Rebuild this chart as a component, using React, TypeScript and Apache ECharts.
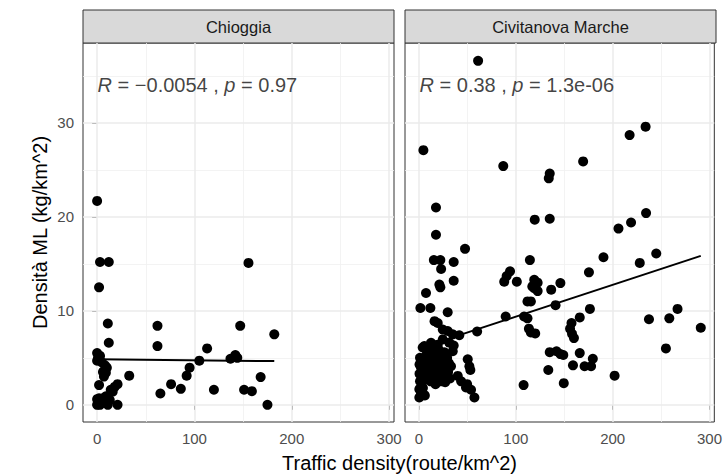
import React, { useEffect, useRef } from "react";
import * as echarts from "echarts";

// ---- data ----
const panels = ["Chioggia", "Civitanova Marche"];
const annotations = [
  "{i|R} = −0.0054 , {i|p} = 0.97",
  "{i|R} = 0.38 , {i|p} = 1.3e-06",
];

const chioggiaPoints: number[][] = [
  [0, 21.7], [3, 15.2], [12, 15.2], [2, 12.5], [11, 8.65], [12, 6.6], [62, 8.4], [62, 6.25],
  [0, 5.5], [1, 5.0], [0, 4.7], [3, 5.2], [5, 4.5], [8, 4.2], [9, 3.4], [6, 3.5], [10, 3.95], [7, 3.0],
  [33, 3.1], [2, 2.1], [14, 1.6], [18, 1.9], [21, 2.2], [16, 1.4],
  [65, 1.2], [76, 2.2], [86, 1.7], [92, 3.1], [95, 3.95], [105, 4.7], [113, 6.0], [120, 1.6],
  [137, 4.9], [142, 5.3], [144, 5.0], [147, 8.4], [155.5, 15.1], [151, 1.6], [159, 1.45], [168, 2.95], [175, 0], [182, 7.5],
  [0, 0], [0, 0.6], [2, 0.7], [4, 0.3], [6, 0.7], [8, 0.4], [11, 0], [13, 0.5], [21, 0], [1, 0.2], [3, 0], [9, 0.9],
];

const civitanovaPoints: number[][] = [
  [61, 36.6], [4.5, 27.1], [87, 25.4], [135, 24.6], [134, 24.1], [169.5, 25.9], [217.5, 28.7], [234, 29.6],
  [17.5, 21.0], [17.5, 18.1], [119.5, 19.7], [135, 19.8], [206, 18.75], [219, 19.4], [234.5, 20.4],
  [190.5, 15.7], [228, 15.1], [245, 16.1], [175.5, 14.1], [176.5, 10.2], [237.5, 9.1], [258.5, 9.2], [267, 10.2], [291, 8.2],
  [255, 6.0], [179.5, 4.9], [177.7, 4.1], [202, 3.1],
  [114.5, 15.4], [94, 14.2], [90.5, 13.7], [88, 13.1], [101, 13.1], [119, 13.3], [122.5, 13.0], [117, 12.6], [122.5, 12.1],
  [119, 12.4], [136.5, 12.25], [146, 12.95],
  [112, 11.0], [115.5, 11.0], [141, 10.6], [89.5, 9.4], [108.5, 9.4], [112, 9.2], [113.5, 8.1], [115.5, 7.7], [120, 7.6],
  [166, 9.3], [157.5, 8.7], [156, 8.1], [158, 7.55], [160, 7.1],
  [135, 5.6], [142, 5.7], [146, 5.4], [149, 5.3], [166, 5.5], [159, 4.2], [171, 4.1], [133.5, 3.7], [108, 2.1], [149.5, 2.3],
  [47.5, 16.6], [15.3, 15.4], [22, 15.4], [22.8, 14.45], [35.8, 15.2], [21, 12.8], [22, 12.5], [35.8, 13.2], [7.2, 11.9],
  [1.4, 10.3], [11.7, 10.3], [29.6, 9.85],
  [16, 8.9], [19.3, 8.7], [24.5, 8.0], [29.6, 7.85], [34.8, 7.5], [41.6, 7.4], [60, 7.8],
  [5.5, 6.25], [3.8, 6.1], [12.4, 6.6], [19.3, 6.4], [24.5, 6.96], [31.3, 6.6], [35.8, 6.3], [34.8, 5.7],
  [50.3, 4.85], [52, 4.1], [53, 3.7], [40, 3.07], [43.5, 2.5], [48.5, 1.84], [49.7, 2.2], [53.7, 1.6], [57.2, 0.78],
  [0.3, 1.66], [2, 1.13], [0.3, 0.78], [3.8, 2.9], [5.5, 3.6], [2, 3.96], [7.2, 2.7],
  [14, 5.8], [17, 5.5], [20, 5.9], [23, 5.2], [26, 5.6], [29, 5.0], [16, 4.8], [19, 4.5], [22, 4.2], [25, 4.6],
  [28, 4.0], [31, 4.4], [13, 4.0], [18, 3.6], [21, 3.3], [24, 3.7], [27, 3.2], [30, 3.5], [15, 3.0], [20, 2.7],
  [23, 2.5], [26, 2.9], [32, 2.8], [11, 4.8], [10, 3.2], [9, 5.1], [33, 4.1], [12, 2.5], [17, 2.2], [27, 2.4],
  [1, 5.0], [0.5, 4.3], [3, 4.6], [1, 2.5], [4, 1.8], [6, 1.0], [0.5, 3.3], [8, 5.4], [6, 4.4], [9, 6.0],
];

const chioggiaFit: number[][] = [[0, 4.85], [182, 4.65]];
const civitanovaFit: number[][] = [[0, 6.0], [291, 15.85]];

const xMajor = [0, 100, 200, 300];
const xMinor = [50, 150, 250];
const yMajor = [0, 10, 20, 30];
const yMinor = [5, 15, 25, 35];
const xRange = [-14.5, 305];
const yRange = [-1.83, 38.5];
const annotationPos: number[] = [0, 34];

const FONT = "'Liberation Sans', Arial, sans-serif";

export default function App() {
  const ref = useRef<HTMLDivElement>(null);
  useEffect(() => {
    document.body.style.margin = "0";
    const chart = echarts.init(ref.current!, undefined, { renderer: "svg" });
    const grids = [
      { left: 83, top: 43, width: 311, height: 379 },
      { left: 405, top: 43, width: 311, height: 379 },
    ];
    const pointsList = [chioggiaPoints, civitanovaPoints];
    const fits = [chioggiaFit, civitanovaFit];

    const series: any[] = [];
    grids.forEach((_, i) => {
      series.push({
        type: "line",
        xAxisIndex: i,
        yAxisIndex: i,
        data: [],
        silent: true,
        markLine: {
          silent: true,
          symbol: "none",
          animation: false,
          label: { show: false },
          lineStyle: { color: "#EBEBEB", type: "solid", width: 1.5 },
          data: [
            ...xMinor.map((v) => ({ xAxis: v, lineStyle: { color: "#F0F0F0", width: 0.8, type: "solid" } })),
            ...yMinor.map((v) => ({ yAxis: v, lineStyle: { color: "#F0F0F0", width: 0.8, type: "solid" } })),
            ...xMajor.map((v) => ({ xAxis: v })),
            ...yMajor.map((v) => ({ yAxis: v })),
          ],
        },
      });
      series.push({
        type: "scatter",
        xAxisIndex: i,
        yAxisIndex: i,
        data: pointsList[i],
        symbolSize: 10,
        itemStyle: { color: "#000", opacity: 1 },
        z: 10,
      });
      series.push({
        type: "line",
        xAxisIndex: i,
        yAxisIndex: i,
        data: fits[i],
        symbol: "none",
        lineStyle: { color: "#000", width: 2 },
        z: 11,
      });
      series.push({
        type: "scatter",
        xAxisIndex: i,
        yAxisIndex: i,
        data: [annotationPos],
        symbolSize: 1,
        itemStyle: { color: "transparent" },
        z: 12,
        label: {
          show: true,
          position: "right",
          distance: 0,
          formatter: annotations[i],
          fontSize: 20,
          fontFamily: FONT,
          color: "#111",
          rich: {
            i: { fontStyle: "italic", fontSize: 20, fontFamily: FONT, color: "#111" },
          },
        },
      });
    });

    chart.setOption({
      animation: false,
      backgroundColor: "#fff",
      grid: grids.map((g) => ({
        ...g,
        show: true,
        borderColor: "#333333",
        borderWidth: 1,
        backgroundColor: "#fff",
      })),
      xAxis: grids.map((_, i) => ({
        type: "value",
        gridIndex: i,
        min: xRange[0],
        max: xRange[1],
        splitLine: { show: false },
        axisLine: { show: false },
        axisTick: { show: true, customValues: xMajor, length: 5, lineStyle: { color: "#333", width: 1 } },
        axisLabel: { customValues: xMajor, color: "#4D4D4D", fontSize: 15, margin: 9, fontFamily: FONT },
      })),
      yAxis: grids.map((_, i) => ({
        type: "value",
        gridIndex: i,
        min: yRange[0],
        max: yRange[1],
        splitLine: { show: false },
        axisLine: { show: false },
        axisTick: { show: i === 0, customValues: yMajor, length: 5, lineStyle: { color: "#333", width: 1 } },
        axisLabel: { show: i === 0, customValues: yMajor, color: "#4D4D4D", fontSize: 15, margin: 9, fontFamily: FONT },
      })),
      graphic: [
        ...grids.map((g, i) => ({
          type: "group",
          children: [
            {
              type: "rect",
              shape: { x: g.left, y: 10, width: g.width, height: 33 },
              style: { fill: "#D9D9D9", stroke: "#333333", lineWidth: 1 },
            },
            {
              type: "text",
              x: g.left + g.width / 2,
              y: 27,
              style: {
                text: panels[i],
                align: "center",
                verticalAlign: "middle",
                fontSize: 16.5,
                fontFamily: FONT,
                fill: "#1A1A1A",
              },
            },
          ],
        })),
        {
          type: "text",
          x: 399.5,
          y: 463,
          style: {
            text: "Traffic density(route/km^2)",
            align: "center",
            verticalAlign: "middle",
            fontSize: 20,
            fontFamily: FONT,
            fill: "#000",
          },
        },
        {
          type: "text",
          x: 40,
          y: 232.5,
          rotation: Math.PI / 2,
          style: {
            text: "Densità ML (kg/km^2)",
            align: "center",
            verticalAlign: "middle",
            fontSize: 20,
            fontFamily: FONT,
            fill: "#000",
          },
        },
      ],
      series,
    });
    return () => chart.dispose();
  }, []);
  return (
    <div
      ref={ref}
      style={{ position: "fixed", left: 0, top: 0, width: 725, height: 474, background: "#fff" }}
    />
  );
}
